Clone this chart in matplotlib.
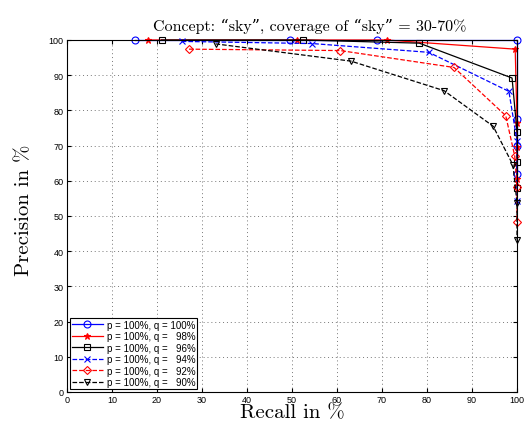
import matplotlib
matplotlib.use('Agg')
from matplotlib import pyplot as plt

plt.rcParams['font.family'] = ['Liberation Sans', 'DejaVu Sans']
plt.rcParams['xtick.direction'] = 'in'
plt.rcParams['ytick.direction'] = 'in'

# recall / precision values per setting
recall_100 = [15, 49.5, 68.8, 100, 100, 100, 100]
prec_100 = [100, 100, 100, 100, 77.5, 70, 62]
recall_98 = [18, 51, 71, 99.6, 100, 100, 100]
prec_98 = [100, 100, 100, 97.4, 76.5, 69.5, 60.5]
recall_96 = [21, 52.5, 78.3, 98.9, 100, 100, 100]
prec_96 = [100, 100, 99.1, 89.2, 74, 65.3, 58]
recall_94 = [25.5, 54.4, 80.4, 98.2, 100, 100]
prec_94 = [99.6, 99, 96.5, 85.4, 71.3, 54.4]
recall_92 = [27.1, 60.7, 86, 97.5, 99.5, 100, 100]
prec_92 = [97.4, 97, 92.2, 78.5, 67, 58.2, 48.4]
recall_90 = [33, 63.1, 83.8, 94.7, 99.1, 100, 100]
prec_90 = [98.9, 94, 85.6, 75.5, 64.5, 53.7, 43.3]

labels = ['p = 100%, q = 100%', 'p = 100%, q =   98%', 'p = 100%, q =   96%',
          'p = 100%, q =   94%', 'p = 100%, q =   92%', 'p = 100%, q =   90%']

fig = plt.figure(figsize=(5.28, 4.31), dpi=100)
ax = fig.add_axes([67 / 528, 1 - 393 / 431, 450 / 528, 352 / 431])

styles = [
    (recall_100, prec_100, 'b', '-', 'o'),
    (recall_98, prec_98, 'r', '-', '*'),
    (recall_96, prec_96, 'k', '-', 's'),
    (recall_94, prec_94, 'b', '--', 'x'),
    (recall_92, prec_92, 'r', '--', 'D'),
    (recall_90, prec_90, 'k', '--', 'v'),
]
for (xs, ys, c, ls, m), lab in zip(styles, labels):
    ms = 4 if m in ('s', 'D') else 5
    ax.plot(xs, ys, color=c, linestyle=ls, marker=m, markersize=ms,
            markerfacecolor='none' if m not in ('*', 'x') else c,
            markeredgewidth=0.8, linewidth=0.9, label=lab, clip_on=False)

ax.set_xlim(0, 100)
ax.set_ylim(0, 100)
ax.set_xticks(range(0, 101, 10))
ax.set_yticks(range(0, 101, 10))
ax.tick_params(labelsize=6.5, length=3, top=True, right=True, pad=2.5)
ax.grid(color='#777777', linestyle=(0, (1, 3)), linewidth=0.7)
for s in ax.spines.values():
    s.set_linewidth(0.8)

serif = ['cmr10', 'DejaVu Serif']
t = ax.set_title('Concept: \u201csky\u201d, coverage of \u201csky\u201d = 30-70%',
                 fontsize=11.5, family=serif, pad=7)
t.set_x(0.54)
ax.set_xlabel('Recall in %', fontsize=15, family=serif, labelpad=-1)
ax.set_ylabel('Precision in %', fontsize=15, family=serif)
ax.yaxis.set_label_coords(-0.075, 0.52)

leg = ax.legend(loc='lower left', fontsize=7, fancybox=False, framealpha=1,
                edgecolor='k', borderpad=0.15, labelspacing=0.15,
                handlelength=3.2, handletextpad=0.4, borderaxespad=0.35)
leg.get_frame().set_linewidth(0.8)

plt.savefig('out.png', dpi=100)
